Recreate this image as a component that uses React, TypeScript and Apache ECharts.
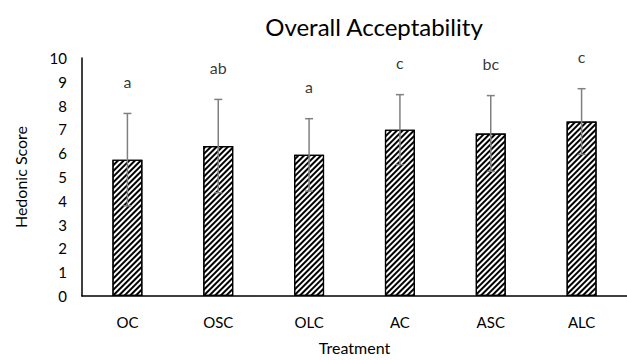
import React, { useEffect, useRef } from "react";
import * as echarts from "echarts";

const categories = ["OC", "OSC", "OLC", "AC", "ASC", "ALC"];
const means = [5.73, 6.3, 5.93, 6.99, 6.83, 7.33];
const sds = [1.94, 1.96, 1.52, 1.47, 1.59, 1.38];
const letters = ["a", "ab", "a", "c", "bc", "c"];
const yTicks = [0, 1, 2, 3, 4, 5, 6, 7, 8, 9, 10];

const FONT = "Lato";

export default function App() {
  const ref = useRef<HTMLDivElement>(null);
  useEffect(() => {
    if (!ref.current) return;
    const chart = echarts.init(ref.current, undefined, { renderer: "svg" });
    const errData = categories.map((c, i) => [i, means[i] - sds[i], means[i] + sds[i]]);
    const letterData = categories.map((c, i) => [i, means[i] + sds[i] + 1.35, letters[i]]);
    chart.setOption({
      animation: false,
      backgroundColor: "#fff",
      title: {
        text: "Overall Acceptability",
        left: 369,
        top: 9,
        textAlign: "center",
        textStyle: { fontFamily: FONT, fontSize: 24, fontWeight: "normal", color: "#000" },
      },
      grid: { left: 82, top: 58, width: 557, height: 246, containLabel: false },
      xAxis: {
        type: "category",
        data: categories,
        name: "Treatment",
        nameLocation: "middle",
        nameGap: 43,
        nameTextStyle: { fontFamily: FONT, fontSize: 16, color: "#000" },
        axisLine: { lineStyle: { color: "#000", width: 1.5 } },
        axisTick: { show: false },
        axisLabel: { fontFamily: FONT, fontSize: 15, color: "#000", margin: 18 },
      },
      yAxis: {
        type: "value",
        min: yTicks[0],
        max: yTicks[yTicks.length - 1],
        interval: 1,
        name: "Hedonic Score",
        nameLocation: "middle",
        nameGap: 54,
        nameTextStyle: { fontFamily: FONT, fontSize: 16, color: "#000" },
        axisLine: { show: true, lineStyle: { color: "#000", width: 1.5 } },
        axisTick: { show: false },
        splitLine: { show: false },
        axisLabel: { fontFamily: FONT, fontSize: 15, color: "#000", margin: 15 },
      },
      series: [
        {
          type: "bar",
          data: means,
          barWidth: 30,
          itemStyle: {
            color: "#fff",
            borderColor: "#000",
            borderWidth: 1.2,
            decal: {
              symbol: "rect",
              symbolSize: 1,
              dashArrayX: [[1, 0]],
              dashArrayY: [1.6, 1.6],
              rotation: -Math.PI / 4,
              color: "#000",
            },
          },
        },
        {
          type: "custom",
          data: errData,
          z: 10,
          renderItem: (params: any, api: any) => {
            const x = api.value(0);
            const lo = api.coord([x, api.value(1)]);
            const hi = api.coord([x, api.value(2)]);
            const cap = 4;
            const style = { stroke: "#808080", lineWidth: 1.5 };
            return {
              type: "group",
              children: [
                { type: "line", shape: { x1: hi[0], y1: hi[1], x2: lo[0], y2: lo[1] }, style },
                { type: "line", shape: { x1: hi[0] - cap, y1: hi[1], x2: hi[0] + cap, y2: hi[1] }, style },
                { type: "line", shape: { x1: lo[0] - cap, y1: lo[1], x2: lo[0] + cap, y2: lo[1] }, style },
              ],
            };
          },
        },
        {
          type: "scatter",
          data: letterData,
          symbolSize: 0,
          clip: false,
          label: {
            show: true,
            position: "inside",
            formatter: (p: any) => p.value[2],
            fontFamily: FONT,
            fontSize: 16,
            color: "#000",
          },
        },
      ],
    });
    return () => chart.dispose();
  }, []);
  return (
    <div
      ref={ref}
      style={{ position: "fixed", left: 0, top: 0, width: 627, height: 360 }}
    />
  );
}
